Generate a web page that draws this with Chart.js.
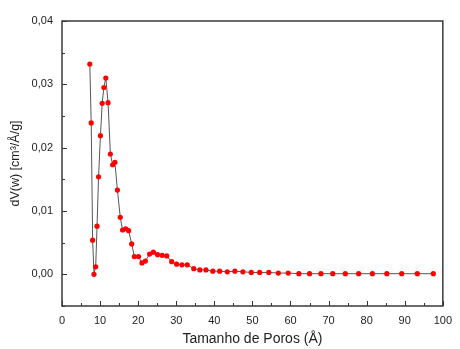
<!DOCTYPE html>
<html>
<head>
<meta charset="utf-8">
<script src="https://cdn.jsdelivr.net/npm/chart.js@4"></script>
<style>
  body { margin: 0; background: #fff; }
  canvas { display: block; }
</style>
</head>
<body>
<canvas id="graph_poros" width="460" height="349"></canvas>
<script>
// tamanho de poros (Å)
var poreSize = [
  7.3, 7.67, 8.05, 8.4, 8.85, 9.2, 9.6, 10.1, 10.55, 11.0,
  11.5, 12.1, 12.7, 13.3, 13.9, 14.55, 15.3, 15.9, 16.7, 17.5,
  18.3, 19.0, 20.1, 21.0, 21.9, 23.0, 24.0, 25.1, 26.3, 27.5,
  28.8, 30.1, 31.5, 32.9, 34.6, 36.2, 37.8, 39.6, 41.4, 43.4,
  45.4, 47.5, 49.7, 51.9, 54.3, 56.8, 59.4, 62.2, 65.0, 68.0,
  71.1, 74.4, 77.9, 81.5, 85.3, 89.2, 93.3, 97.5
];
// dV(w) (cm3/Å/g)
var dV = [
  0.0332, 0.0239, 0.0054, 0.0000, 0.0012, 0.0076, 0.0154, 0.0219, 0.0270, 0.0295,
  0.0310, 0.0271, 0.0190, 0.0173, 0.0177, 0.0133, 0.0090, 0.0070, 0.0072, 0.0069,
  0.0048, 0.0028, 0.0028, 0.0018, 0.0021, 0.0032, 0.0035, 0.0031, 0.0030, 0.0029,
  0.0020, 0.0016, 0.0015, 0.0015, 0.0009, 0.0007, 0.0007, 0.0005, 0.0005, 0.0004,
  0.0005, 0.0004, 0.0003, 0.0003, 0.0003, 0.0002, 0.0002, 0.0001, 0.0001, 0.0001,
  0.0001, 0.0001, 0.0001, 0.0001, 0.0001, 0.0001, 0.0001, 0.0001
];

var xMajor = 10, xMinor = 5;
var yMajor = 0.01, yMinor = 0.005;

var points = poreSize.map(function (x, i) { return { x: x, y: dV[i] }; });

function isMajor(v, step) {
  var r = v / step;
  return Math.abs(r - Math.round(r)) < 1e-6;
}

// moldura e ticks para dentro
var frameTicks = {
  id: 'frameTicks',
  afterDraw: function (chart) {
    var c = chart.ctx, a = chart.chartArea;
    var sx = chart.scales.x, sy = chart.scales.y;
    c.save();
    c.strokeStyle = '#333';
    c.lineWidth = 1;
    sx.ticks.forEach(function (t) {
      var px = Math.round(sx.getPixelForValue(t.value)) + 0.5;
      var len = isMajor(t.value, xMajor) ? 5 : 3;
      c.beginPath();
      c.moveTo(px, a.bottom);
      c.lineTo(px, a.bottom - len);
      c.stroke();
    });
    sy.ticks.forEach(function (t) {
      var py = Math.round(sy.getPixelForValue(t.value)) + 0.5;
      var len = isMajor(t.value, yMajor) ? 5 : 3;
      c.beginPath();
      c.moveTo(a.left, py);
      c.lineTo(a.left + len, py);
      c.stroke();
    });
    c.lineWidth = 1.5;
    c.strokeStyle = '#3a3a3a';
    c.strokeRect(a.left, a.top, a.right - a.left, a.bottom - a.top);
    c.restore();
  }
};

var ctx = document.getElementById('graph_poros');

var myChart_poros = new Chart(ctx, {
  type: 'scatter',
  data: {
    datasets: [{
      data: points,
      showLine: true,
      borderColor: '#555',
      borderWidth: 1,
      pointRadius: 2.6,
      pointBorderWidth: 0,
      pointBackgroundColor: '#ff0000',
      pointHoverRadius: 2.6
    }]
  },
  options: {
    responsive: false,
    animation: false,
    layout: {
      padding: { left: 0, right: 11, top: 21, bottom: 0 }
    },
    plugins: {
      legend: { display: false },
      tooltip: { enabled: false }
    },
    scales: {
      x: {
        type: 'linear',
        min: 0,
        max: 100,
        grid: { display: false, drawTicks: false },
        border: { display: false },
        afterFit: function (scale) { scale.height = 43; },
        ticks: {
          stepSize: xMinor,
          autoSkip: false,
          maxRotation: 0,
          padding: 8,
          color: '#222',
          font: { family: 'Arial, "Liberation Sans"', size: 11 },
          callback: function (v) { return isMajor(v, xMajor) ? String(Math.round(v)) : ''; }
        },
        title: {
          display: true,
          text: 'Tamanho de Poros (Å)',
          color: '#222',
          padding: { top: 0, bottom: 1 },
          font: { family: 'Arial, "Liberation Sans"', size: 14 }
        }
      },
      y: {
        type: 'linear',
        min: -0.005,
        max: 0.04,
        grid: { display: false, drawTicks: false },
        border: { display: false },
        afterFit: function (scale) { scale.width = 62; },
        ticks: {
          stepSize: yMinor,
          autoSkip: false,
          padding: 9,
          color: '#222',
          font: { family: 'Arial, "Liberation Sans"', size: 11 },
          callback: function (v) {
            return isMajor(v, yMajor) ? Math.abs(v).toFixed(2).replace('.', ',') : '';
          }
        },
        title: {
          display: true,
          text: 'dV(w) [cm³/Å/g]',
          color: '#222',
          padding: { top: 8, bottom: 0 },
          font: { family: 'Arial, "Liberation Sans"', size: 12.5 }
        }
      }
    }
  },
  plugins: [frameTicks]
});
</script>
</body>
</html>
